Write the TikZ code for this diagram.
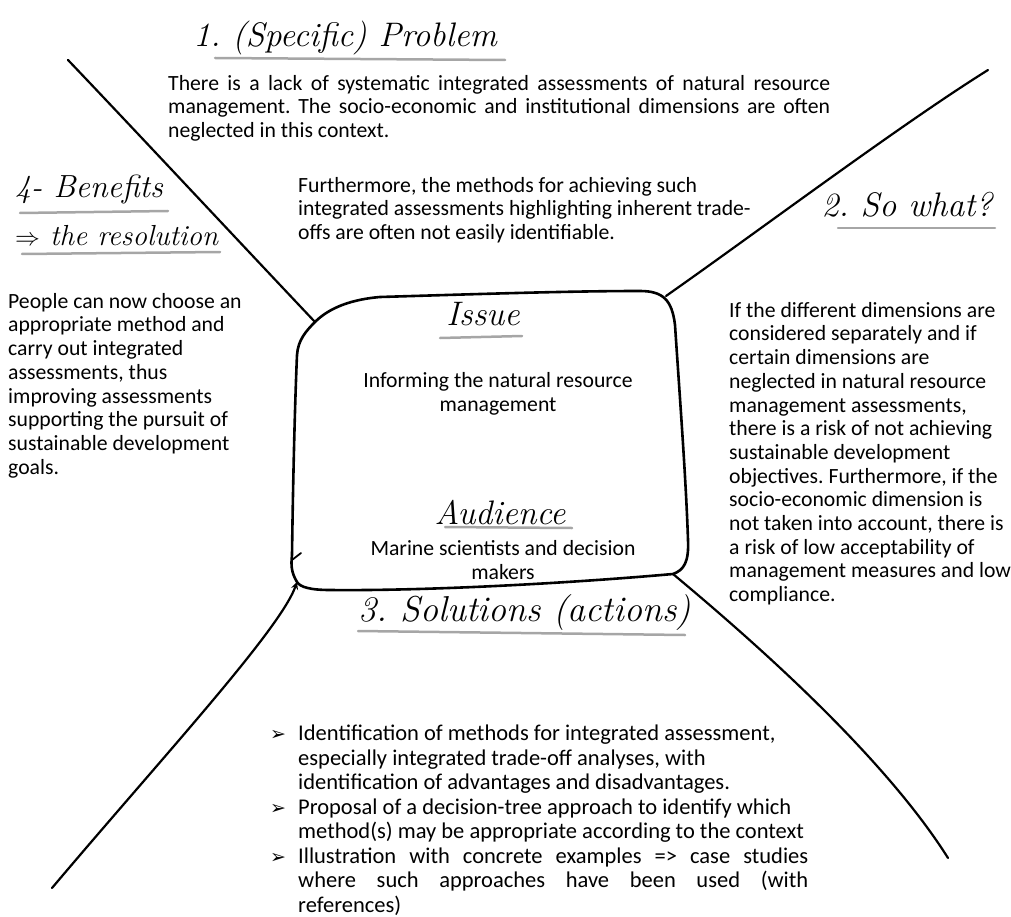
\documentclass[tikz,border=0pt]{standalone}
\usepackage{fontspec}
\setsansfont{Carlito}
\newfontfamily\symbfont{DejaVu Sans}
\usetikzlibrary{positioning}
\frenchspacing

\tikzset{
  sketch/.style={line width=2.2pt, line cap=round, line join=round},
  heading/.style={font=\rmfamily\itshape\fontsize{34}{38}\selectfont, inner sep=0pt},
  body/.style={font=\sffamily\fontsize{21.7}{23.7}\selectfont, inner sep=0pt},
  underline/.style={gray!70, line width=2.5pt, line cap=round},
}

\newcommand{\actionitem}[1]{\par\noindent\hangindent=28pt\hangafter=1%
  \makebox[28pt][l]{\symbfont\fontsize{19}{19}\selectfont ➢}#1\par}

\begin{document}
\begin{tikzpicture}[x=1pt, y=-1pt, >=stealth]
  \useasboundingbox (0,0) rectangle (1011,917);

  % Issue box
  \coordinate (boxTL) at (315,322);
  \coordinate (boxTR) at (666,296);
  \coordinate (boxBR) at (673,574);
  \coordinate (boxBL) at (297,582);
  \draw[sketch, line width=2.6pt] (boxTL) .. controls (326,311) and (345,300) .. (380,297)
    .. controls (480,294) and (570,291) .. (640,291)
    .. controls (663,291) and (672,300) .. (675,325)
    .. controls (680,400) and (686,480) .. (688,540)
    .. controls (689,562) and (684,570) .. (boxBR)
    .. controls (560,584) and (420,591) .. (330,590)
    .. controls (310,590) and (300,587) .. (boxBL)
    .. controls (291,572) and (291,565) .. (292,555)
    .. controls (293,480) and (295,400) .. (297,355)
    .. controls (298,340) and (306,331) .. (boxTL);
  \draw[sketch, line width=1.8pt] (292,560) -- (301,553);

  % Diagonals
  \coordinate (tlEnd) at (68,60);
  \coordinate (trEnd) at (988,70);
  \coordinate (brEnd) at (948,858);
  \coordinate (blEnd) at (52,888);
  \draw[sketch] (boxTL) .. controls (230,232) and (130,125) .. (tlEnd);
  \draw[sketch] (boxTR) .. controls (760,230) and (900,125) .. (trEnd);
  \draw[sketch] (boxBR) .. controls (740,630) and (880,750) .. (brEnd);
  \draw[sketch, ->] (blEnd) .. controls (160,760) and (280,630) .. (boxBL);

  % 1. Problem
  \node[heading] (problemHead) at (345,38) {1. (Specific) Problem};
  \draw[underline] (215,58) -- (505,60);
  \node[body, anchor=north west, text width=662pt, align=justify] (problemText) at (168,75)
    {There is a lack of systematic integrated assessments of natural resource\linebreak
     management. The socio-economic and institutional dimensions are often\linebreak
     neglected in this context.};
  \node[body, anchor=north west, align=left] (methodsText) at (298,177)
    {Furthermore, the methods for achieving such\\
     integrated assessments highlighting inherent trade-\\
     offs are often not easily identifiable.};

  % 2. So what
  \node[heading] (sowhatHead) at (907,205) {2. So what?};
  \draw[underline] (838,228) -- (995,228);
  \node[body, anchor=north west, align=left] (sowhatText) at (729,302)
    {If the different dimensions are\\
     considered separately and if\\
     certain dimensions are\\
     neglected in natural resource\\
     management assessments,\\
     there is a risk of not achieving\\
     sustainable development\\
     objectives. Furthermore, if the\\
     socio-economic dimension is\\
     not taken into account, there is\\
     a risk of low acceptability of\\
     management measures and low\\
     compliance.};

  % 4. Benefits
  \node[heading, font=\rmfamily\itshape\fontsize{32}{36}\selectfont, anchor=west] (benefitsHead) at (15,190) {4- Benefits};
  \draw[underline] (20,213) -- (168,211);
  \node[heading, font=\rmfamily\itshape\fontsize{29}{33}\selectfont, anchor=west] (resolutionHead) at (15,236) {$\Rightarrow$ the resolution};
  \draw[underline] (22,254) -- (220,252);
  \node[body, anchor=north west, align=left] (benefitsText) at (8,293)
    {People can now choose an\\
     appropriate method and\\
     carry out integrated\\
     assessments, thus\\
     improving assessments\\
     supporting the pursuit of\\
     sustainable development\\
     goals.};

  % Issue and audience
  \node[heading] (issueHead) at (483,314) {Issue};
  \draw[underline] (440,338) -- (522,336);
  \node[body, align=center] (issueText) at (498,394)
    {Informing the natural resource\\ management};
  \node[heading] (audienceHead) at (500,513) {Audience};
  \draw[underline] (445,527) -- (572,528);
  \node[body, align=center] (audienceText) at (503,560)
    {Marine scientists and decision\\ makers};

  % 3. Solutions
  \node[heading, font=\rmfamily\itshape\fontsize{36}{40}\selectfont] (solutionsHead) at (525,613) {3. Solutions (actions)};
  \draw[underline] (358,631) -- (685,635);
  \node[body, font=\sffamily\fontsize{22.5}{24.5}\selectfont, anchor=north west,
        text width=538pt, align=justify] (solutionsText) at (270,716)
    {\actionitem{Identification of methods for integrated assessment,\\
       especially integrated trade-off analyses, with\\
       identification of advantages and disadvantages.}
     \actionitem{Proposal of a decision-tree approach to identify which\\
       method(s) may be appropriate according to the context}
     \actionitem{Illustration with concrete examples => case studies\linebreak
       where such approaches have been used (with\linebreak
       references)}};
\end{tikzpicture}
\end{document}
